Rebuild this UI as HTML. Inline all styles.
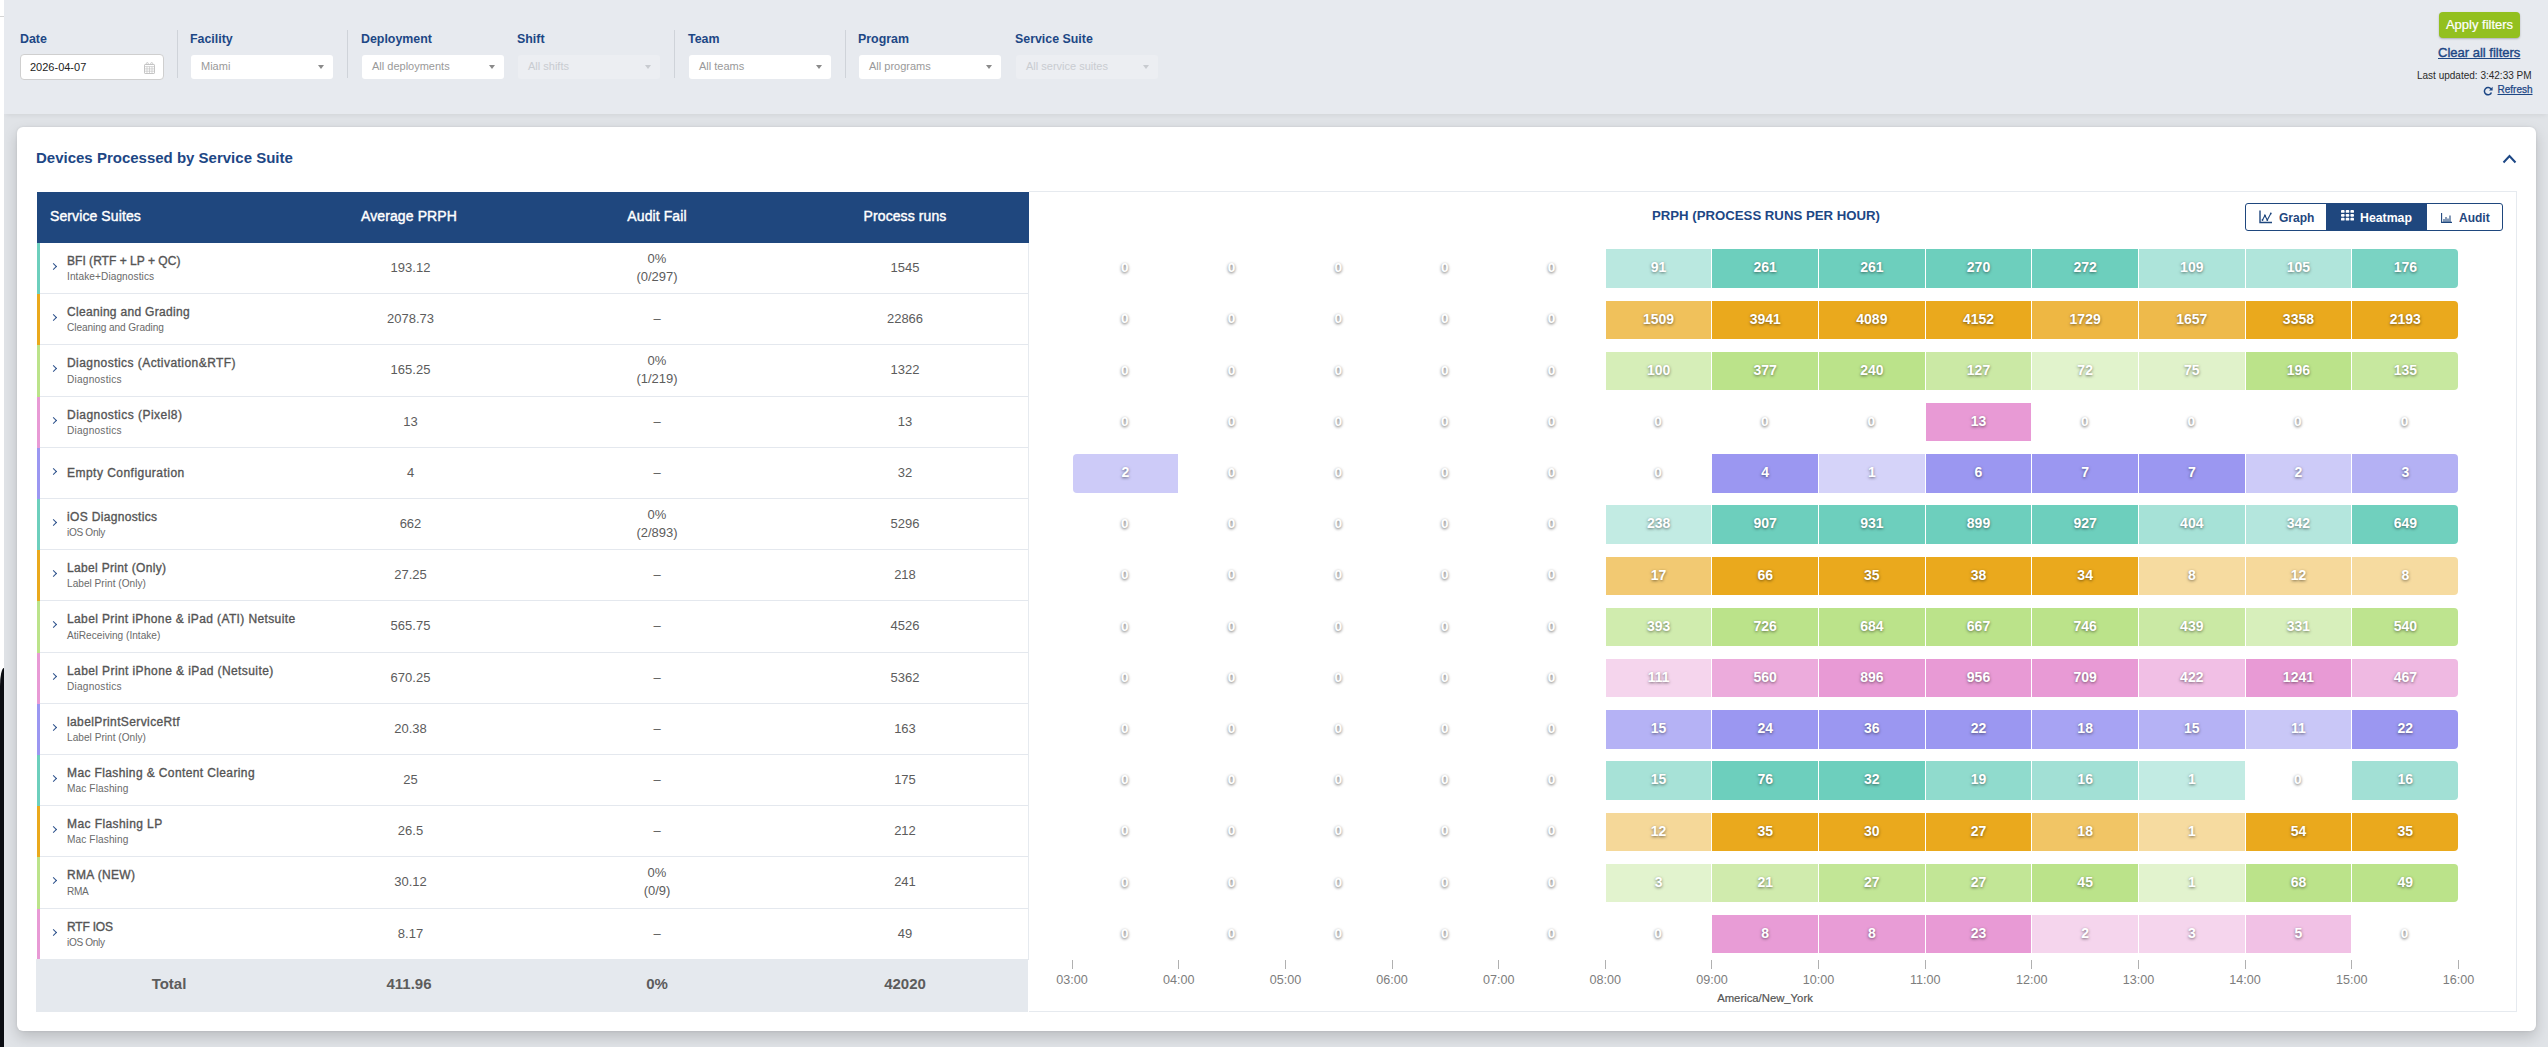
<!DOCTYPE html><html><head><meta charset="utf-8"><style>
*{box-sizing:border-box}
body{margin:0;width:2548px;height:1047px;position:relative;overflow:hidden;background:#e0e3e7;font-family:"Liberation Sans",sans-serif;}
.a{position:absolute;white-space:nowrap}
.lbl{position:absolute;top:31px;font-size:12.4px;font-weight:700;color:#1d4785;line-height:16px}
.inp{position:absolute;top:55px;width:143px;height:24px;background:#fff;border-radius:3px;font-size:11px;color:#999;line-height:22px;padding-left:10px}
.inp.dis{background:#eceef2;color:#c9ccd1}
.caret{position:absolute;right:9px;top:10px;width:0;height:0;border-left:3.5px solid transparent;border-right:3.5px solid transparent;border-top:4px solid #8a8a8a}
.dis .caret{border-top-color:#c8cbd0}
.vdiv{position:absolute;top:30px;width:1px;height:48px;background:#cfd3d9}
.hd{position:absolute;top:191px;height:51px;line-height:51px;color:#fff;font-size:14px;font-weight:400;-webkit-text-stroke:0.4px #fff;letter-spacing:0.1px}
.row{position:absolute;left:37px;width:992px;border-bottom:1px solid #e4e8ee;background:#fff}
.bar{position:absolute;left:0;top:0;bottom:-1px;width:3px}
.chev{position:absolute;left:14px;width:5px;height:5px;border-right:1.3px solid #2a4f8a;border-top:1.3px solid #2a4f8a;transform:rotate(45deg)}
.nm{position:absolute;left:30px;font-size:12px;color:#555;font-weight:400;line-height:14px;-webkit-text-stroke:0.35px #555;letter-spacing:0.1px}
.sb{position:absolute;left:30px;font-size:10.1px;color:#6a6a6a;line-height:12px}
.cv{position:absolute;width:248px;text-align:center;font-size:13px;color:#5c5c5c;line-height:18px}
.cell{position:absolute;height:39px;line-height:39px;text-align:center;color:#fff;font-weight:700;font-size:14px;text-shadow:0 1px 3px rgba(0,0,0,.5)}
.z{position:absolute;width:106px;text-align:center;color:#fff;font-weight:700;font-size:13.6px;text-shadow:0 1px 3px rgba(0,0,0,.6);line-height:16px}
.tick{position:absolute;top:960px;width:1px;height:9px;background:#b0b0b0}
.tl{position:absolute;top:973px;width:60px;text-align:center;font-size:12.6px;color:#7d7d7d;line-height:14px}
</style></head><body>

<div class="a" style="left:4px;top:0;width:2544px;height:114px;background:#e7eaef;box-shadow:0 3px 5px -2px rgba(0,0,0,.07)"></div>
<div class="lbl" style="left:20px">Date</div>
<div class="lbl" style="left:190px">Facility</div>
<div class="lbl" style="left:361px">Deployment</div>
<div class="lbl" style="left:517px">Shift</div>
<div class="lbl" style="left:688px">Team</div>
<div class="lbl" style="left:858px">Program</div>
<div class="lbl" style="left:1015px">Service Suite</div>
<div class="vdiv" style="left:177px"></div>
<div class="vdiv" style="left:347px"></div>
<div class="vdiv" style="left:674px"></div>
<div class="vdiv" style="left:845px"></div>
<div class="inp" style="left:20px;top:54.3px;width:143.5px;height:25.5px;border:1px solid #cfcfcf;border-radius:4px;color:#222;padding-left:9px;line-height:24px">2026-04-07<svg style="position:absolute;left:122.6px;top:6.5px" width="11" height="12" viewBox="0 0 11 12"><rect x="0.5" y="2.5" width="10" height="9" rx="0.6" fill="none" stroke="#c4c4c4"/><path d="M0.5 4.6h10M3 4.6v6.9M5.5 4.6v6.9M8 4.6v6.9M0.5 6.9h10M0.5 9.2h10" stroke="#c4c4c4" stroke-width="0.7"/><path d="M2.3 3V1.6a1 1 0 0 1 2 0V3M6.7 3V1.6a1 1 0 0 1 2 0V3" fill="none" stroke="#c4c4c4" stroke-width="0.9"/></svg></div>
<div class="inp" style="left:191px;width:142px">Miami<div class="caret"></div></div>
<div class="inp" style="left:362px;width:142px">All deployments<div class="caret"></div></div>
<div class="inp dis" style="left:518px;width:142px">All shifts<div class="caret"></div></div>
<div class="inp" style="left:689px;width:142px">All teams<div class="caret"></div></div>
<div class="inp" style="left:859px;width:142px">All programs<div class="caret"></div></div>
<div class="inp dis" style="left:1016px;width:142px">All service suites<div class="caret"></div></div>
<div class="a" style="left:2439px;top:12px;width:81px;height:26px;background:#93c01f;border-radius:4px;box-shadow:0 1px 2px rgba(0,0,0,.25);color:#fff;font-size:13px;line-height:26px;text-align:center;-webkit-text-stroke:0.2px #fff">Apply filters</div>
<div class="a" style="left:2438px;top:45.5px;font-size:13px;font-weight:400;color:#1d4785;text-decoration:underline;line-height:14px;-webkit-text-stroke:0.4px #1d4785">Clear all filters</div>
<div class="a" style="left:2417px;top:70px;font-size:10px;color:#2a2a2a;line-height:12px">Last updated: 3:42:33 PM</div>
<svg class="a" style="left:2483px;top:86px" width="10" height="10" viewBox="0 0 10 10"><path d="M8 3.2A3.6 3.6 0 1 0 8.4 6.4" fill="none" stroke="#1d4785" stroke-width="1.5"/><path d="M9.6 0.8v3.6H6z" fill="#1d4785"/></svg>
<div class="a" style="left:2497.5px;top:83.9px;font-size:10px;color:#1d4785;text-decoration:underline;line-height:12px;-webkit-text-stroke:0.25px #1d4785">Refresh</div>
<div class="a" style="left:17px;top:127px;width:2519px;height:904px;background:#fff;border-radius:6px;box-shadow:0 0 3px rgba(0,0,0,.08),0 6px 14px rgba(0,0,0,.17)"></div>
<div class="a" style="left:36px;top:149px;font-size:15px;font-weight:700;color:#1d4785;line-height:18px">Devices Processed by Service Suite</div>
<svg class="a" style="left:2502px;top:153px" width="15" height="11" viewBox="0 0 15 11"><path d="M1.5 9.5L7.5 3l6 6.5" fill="none" stroke="#1d4785" stroke-width="2"/></svg>
<div class="a" style="left:37px;top:192px;width:992px;height:51px;background:#1f477e"></div>
<div class="hd" style="left:50px">Service Suites</div>
<div class="hd" style="left:285px;width:248px;text-align:center">Average PRPH</div>
<div class="hd" style="left:533px;width:248px;text-align:center">Audit Fail</div>
<div class="hd" style="left:781px;width:248px;text-align:center">Process runs</div>
<div class="a" style="left:1029px;top:191px;width:1488px;height:821px;border:1px solid #e6eaef;border-left:none"></div>
<div class="a" style="left:1652px;top:208px;font-size:13.2px;font-weight:700;color:#1d4785;line-height:16px">PRPH (PROCESS RUNS PER HOUR)</div>
<div class="a" style="left:2245px;top:203px;width:258px;height:28px;border:1px solid #1f477e;border-radius:3px;overflow:hidden"><div class="a" style="left:80px;top:0;width:101px;height:26px;background:#1f477e"></div><svg class="a" style="left:13px;top:5.5px" width="14" height="14" viewBox="0 0 14 14"><path d="M1 0.5v12h12" fill="none" stroke="#1f477e" stroke-width="1.4"/><path d="M3.5 10l2.4-4.5 2.4 4.6 3.5-6.6" fill="none" stroke="#1f477e" stroke-width="1.1"/><g fill="#1f477e"><circle cx="3.5" cy="10" r="0.9"/><circle cx="5.9" cy="5.5" r="0.9"/><circle cx="8.3" cy="10.1" r="0.9"/><circle cx="11.8" cy="3.5" r="0.9"/></g></svg><div class="a" style="left:33px;top:6px;font-size:12px;font-weight:700;color:#1f477e;line-height:16px">Graph</div><svg class="a" style="left:94.5px;top:6.2px" width="13" height="11" viewBox="0 0 13 11"><g fill="#fff"><rect x="0" y="0" width="3.6" height="2.8" rx=".9"/><rect x="4.7" y="0" width="3.6" height="2.8" rx=".9"/><rect x="9.4" y="0" width="3.6" height="2.8" rx=".9"/><rect x="0" y="3.9" width="3.6" height="2.8" rx=".9"/><rect x="4.7" y="3.9" width="3.6" height="2.8" rx=".9"/><rect x="9.4" y="3.9" width="3.6" height="2.8" rx=".9"/><rect x="0" y="7.8" width="3.6" height="2.8" rx=".9"/><rect x="4.7" y="7.8" width="3.6" height="2.8" rx=".9"/><rect x="9.4" y="7.8" width="3.6" height="2.8" rx=".9"/></g></svg><div class="a" style="left:114px;top:6px;font-size:12.3px;font-weight:700;color:#fff;line-height:16px">Heatmap</div><svg class="a" style="left:195px;top:9px" width="11" height="10" viewBox="0 0 11 10"><path d="M0.6 0v9.4H11" fill="none" stroke="#1f477e" stroke-width="1.1"/><path d="M3 9V6M5 9V4M7 9V5.5M9 9V2.5" stroke="#1f477e" stroke-width="1.1"/></svg><div class="a" style="left:213px;top:6px;font-size:12px;font-weight:700;color:#1f477e;line-height:16px">Audit</div></div>
<div class="row" style="top:243.00px;height:51.20px">
<div class="bar" style="background:rgb(109,207,189)"></div>
<div class="chev" style="top:21px"></div>
<div class="nm" style="top:11px;letter-spacing:0.028px">BFI (RTF + LP + QC)</div><div class="sb" style="top:28.2px;letter-spacing:0.088px">Intake+Diagnostics</div>
<div class="cv" style="left:249.5px;top:16px">193.12</div>
<div class="cv" style="left:496px;top:7px">0%<br>(0/297)</div>
<div class="cv" style="left:744px;top:16px">1545</div>
</div>
<div class="z" style="left:1071.9px;top:260.2px">0</div>
<div class="z" style="left:1178.6px;top:260.2px">0</div>
<div class="z" style="left:1285.2px;top:260.2px">0</div>
<div class="z" style="left:1391.8px;top:260.2px">0</div>
<div class="z" style="left:1498.5px;top:260.2px">0</div>
<div class="cell" style="left:1605.79px;top:249.40px;height:38.4px;line-height:37.4px;width:105.64px;background:rgb(186,232,224);">91</div>
<div class="cell" style="left:1712.43px;top:249.40px;height:38.4px;line-height:37.4px;width:105.64px;background:rgb(109,207,189);">261</div>
<div class="cell" style="left:1819.07px;top:249.40px;height:38.4px;line-height:37.4px;width:105.64px;background:rgb(109,207,189);">261</div>
<div class="cell" style="left:1925.71px;top:249.40px;height:38.4px;line-height:37.4px;width:105.64px;background:rgb(109,207,189);">270</div>
<div class="cell" style="left:2032.35px;top:249.40px;height:38.4px;line-height:37.4px;width:105.64px;background:rgb(109,207,189);">272</div>
<div class="cell" style="left:2138.98px;top:249.40px;height:38.4px;line-height:37.4px;width:105.64px;background:rgb(173,228,218);">109</div>
<div class="cell" style="left:2245.62px;top:249.40px;height:38.4px;line-height:37.4px;width:105.64px;background:rgb(176,229,219);">105</div>
<div class="cell" style="left:2352.26px;top:249.40px;height:38.4px;line-height:37.4px;width:106.14px;background:rgb(122,211,195);border-radius:0 4px 4px 0;">176</div>
<div class="row" style="top:294.20px;height:51.20px">
<div class="bar" style="background:rgb(234,169,29)"></div>
<div class="chev" style="top:21px"></div>
<div class="nm" style="top:11px;letter-spacing:0.311px">Cleaning and Grading</div><div class="sb" style="top:28.2px;letter-spacing:-0.074px">Cleaning and Grading</div>
<div class="cv" style="left:249.5px;top:16px">2078.73</div>
<div class="cv" style="left:496px;top:16px">&ndash;</div>
<div class="cv" style="left:744px;top:16px">22866</div>
</div>
<div class="z" style="left:1071.9px;top:311.4px">0</div>
<div class="z" style="left:1178.6px;top:311.4px">0</div>
<div class="z" style="left:1285.2px;top:311.4px">0</div>
<div class="z" style="left:1391.8px;top:311.4px">0</div>
<div class="z" style="left:1498.5px;top:311.4px">0</div>
<div class="cell" style="left:1605.79px;top:300.60px;height:38.4px;line-height:37.4px;width:105.64px;background:rgb(240,193,91);">1509</div>
<div class="cell" style="left:1712.43px;top:300.60px;height:38.4px;line-height:37.4px;width:105.64px;background:rgb(234,169,29);">3941</div>
<div class="cell" style="left:1819.07px;top:300.60px;height:38.4px;line-height:37.4px;width:105.64px;background:rgb(234,169,29);">4089</div>
<div class="cell" style="left:1925.71px;top:300.60px;height:38.4px;line-height:37.4px;width:105.64px;background:rgb(234,169,29);">4152</div>
<div class="cell" style="left:2032.35px;top:300.60px;height:38.4px;line-height:37.4px;width:105.64px;background:rgb(238,183,67);">1729</div>
<div class="cell" style="left:2138.98px;top:300.60px;height:38.4px;line-height:37.4px;width:105.64px;background:rgb(238,186,75);">1657</div>
<div class="cell" style="left:2245.62px;top:300.60px;height:38.4px;line-height:37.4px;width:105.64px;background:rgb(234,169,29);">3358</div>
<div class="cell" style="left:2352.26px;top:300.60px;height:38.4px;line-height:37.4px;width:106.14px;background:rgb(234,169,29);border-radius:0 4px 4px 0;">2193</div>
<div class="row" style="top:345.40px;height:51.20px">
<div class="bar" style="background:rgb(187,227,138)"></div>
<div class="chev" style="top:21px"></div>
<div class="nm" style="top:11px;letter-spacing:0.448px">Diagnostics (Activation&amp;RTF)</div><div class="sb" style="top:28.2px;letter-spacing:0.230px">Diagnostics</div>
<div class="cv" style="left:249.5px;top:16px">165.25</div>
<div class="cv" style="left:496px;top:7px">0%<br>(1/219)</div>
<div class="cv" style="left:744px;top:16px">1322</div>
</div>
<div class="z" style="left:1071.9px;top:362.6px">0</div>
<div class="z" style="left:1178.6px;top:362.6px">0</div>
<div class="z" style="left:1285.2px;top:362.6px">0</div>
<div class="z" style="left:1391.8px;top:362.6px">0</div>
<div class="z" style="left:1498.5px;top:362.6px">0</div>
<div class="cell" style="left:1605.79px;top:351.80px;height:38.4px;line-height:37.4px;width:105.64px;background:rgb(214,238,184);">100</div>
<div class="cell" style="left:1712.43px;top:351.80px;height:38.4px;line-height:37.4px;width:105.64px;background:rgb(187,227,138);">377</div>
<div class="cell" style="left:1819.07px;top:351.80px;height:38.4px;line-height:37.4px;width:105.64px;background:rgb(187,227,138);">240</div>
<div class="cell" style="left:1925.71px;top:351.80px;height:38.4px;line-height:37.4px;width:105.64px;background:rgb(203,233,165);">127</div>
<div class="cell" style="left:2032.35px;top:351.80px;height:38.4px;line-height:37.4px;width:105.64px;background:rgb(225,243,204);">72</div>
<div class="cell" style="left:2138.98px;top:351.80px;height:38.4px;line-height:37.4px;width:105.64px;background:rgb(224,242,202);">75</div>
<div class="cell" style="left:2245.62px;top:351.80px;height:38.4px;line-height:37.4px;width:105.64px;background:rgb(187,227,138);">196</div>
<div class="cell" style="left:2352.26px;top:351.80px;height:38.4px;line-height:37.4px;width:106.14px;background:rgb(199,232,159);border-radius:0 4px 4px 0;">135</div>
<div class="row" style="top:396.60px;height:51.20px">
<div class="bar" style="background:rgb(232,154,213)"></div>
<div class="chev" style="top:21px"></div>
<div class="nm" style="top:11px;letter-spacing:0.468px">Diagnostics (Pixel8)</div><div class="sb" style="top:28.2px;letter-spacing:0.230px">Diagnostics</div>
<div class="cv" style="left:249.5px;top:16px">13</div>
<div class="cv" style="left:496px;top:16px">&ndash;</div>
<div class="cv" style="left:744px;top:16px">13</div>
</div>
<div class="z" style="left:1071.9px;top:413.8px">0</div>
<div class="z" style="left:1178.6px;top:413.8px">0</div>
<div class="z" style="left:1285.2px;top:413.8px">0</div>
<div class="z" style="left:1391.8px;top:413.8px">0</div>
<div class="z" style="left:1498.5px;top:413.8px">0</div>
<div class="z" style="left:1605.1px;top:413.8px">0</div>
<div class="z" style="left:1711.8px;top:413.8px">0</div>
<div class="z" style="left:1818.4px;top:413.8px">0</div>
<div class="cell" style="left:1925.71px;top:403.00px;height:38.4px;line-height:37.4px;width:105.64px;background:rgb(232,154,213);">13</div>
<div class="z" style="left:2031.7px;top:413.8px">0</div>
<div class="z" style="left:2138.3px;top:413.8px">0</div>
<div class="z" style="left:2244.9px;top:413.8px">0</div>
<div class="z" style="left:2351.6px;top:413.8px">0</div>
<div class="row" style="top:447.80px;height:51.20px">
<div class="bar" style="background:rgb(155,151,241)"></div>
<div class="chev" style="top:21px"></div>
<div class="nm" style="top:18px;letter-spacing:0.472px">Empty Configuration</div>
<div class="cv" style="left:249.5px;top:16px">4</div>
<div class="cv" style="left:496px;top:16px">&ndash;</div>
<div class="cv" style="left:744px;top:16px">32</div>
</div>
<div class="cell" style="left:1072.60px;top:454.20px;height:38.4px;line-height:37.4px;width:105.64px;background:rgb(205,203,248);border-radius:4px 0 0 4px;">2</div>
<div class="z" style="left:1178.6px;top:465.0px">0</div>
<div class="z" style="left:1285.2px;top:465.0px">0</div>
<div class="z" style="left:1391.8px;top:465.0px">0</div>
<div class="z" style="left:1498.5px;top:465.0px">0</div>
<div class="z" style="left:1605.1px;top:465.0px">0</div>
<div class="cell" style="left:1712.43px;top:454.20px;height:38.4px;line-height:37.4px;width:105.64px;background:rgb(155,151,241);">4</div>
<div class="cell" style="left:1819.07px;top:454.20px;height:38.4px;line-height:37.4px;width:105.64px;background:rgb(213,211,249);">1</div>
<div class="cell" style="left:1925.71px;top:454.20px;height:38.4px;line-height:37.4px;width:105.64px;background:rgb(155,151,241);">6</div>
<div class="cell" style="left:2032.35px;top:454.20px;height:38.4px;line-height:37.4px;width:105.64px;background:rgb(155,151,241);">7</div>
<div class="cell" style="left:2138.98px;top:454.20px;height:38.4px;line-height:37.4px;width:105.64px;background:rgb(155,151,241);">7</div>
<div class="cell" style="left:2245.62px;top:454.20px;height:38.4px;line-height:37.4px;width:105.64px;background:rgb(205,203,248);">2</div>
<div class="cell" style="left:2352.26px;top:454.20px;height:38.4px;line-height:37.4px;width:106.14px;background:rgb(180,177,244);border-radius:0 4px 4px 0;">3</div>
<div class="row" style="top:499.00px;height:51.20px">
<div class="bar" style="background:rgb(109,207,189)"></div>
<div class="chev" style="top:21px"></div>
<div class="nm" style="top:11px;letter-spacing:0.329px">iOS Diagnostics</div><div class="sb" style="top:28.2px;letter-spacing:-0.314px">iOS Only</div>
<div class="cv" style="left:249.5px;top:16px">662</div>
<div class="cv" style="left:496px;top:7px">0%<br>(2/893)</div>
<div class="cv" style="left:744px;top:16px">5296</div>
</div>
<div class="z" style="left:1071.9px;top:516.2px">0</div>
<div class="z" style="left:1178.6px;top:516.2px">0</div>
<div class="z" style="left:1285.2px;top:516.2px">0</div>
<div class="z" style="left:1391.8px;top:516.2px">0</div>
<div class="z" style="left:1498.5px;top:516.2px">0</div>
<div class="cell" style="left:1605.79px;top:505.40px;height:38.4px;line-height:37.4px;width:105.64px;background:rgb(194,235,227);">238</div>
<div class="cell" style="left:1712.43px;top:505.40px;height:38.4px;line-height:37.4px;width:105.64px;background:rgb(109,207,189);">907</div>
<div class="cell" style="left:1819.07px;top:505.40px;height:38.4px;line-height:37.4px;width:105.64px;background:rgb(109,207,189);">931</div>
<div class="cell" style="left:1925.71px;top:505.40px;height:38.4px;line-height:37.4px;width:105.64px;background:rgb(109,207,189);">899</div>
<div class="cell" style="left:2032.35px;top:505.40px;height:38.4px;line-height:37.4px;width:105.64px;background:rgb(109,207,189);">927</div>
<div class="cell" style="left:2138.98px;top:505.40px;height:38.4px;line-height:37.4px;width:105.64px;background:rgb(166,226,215);">404</div>
<div class="cell" style="left:2245.62px;top:505.40px;height:38.4px;line-height:37.4px;width:105.64px;background:rgb(180,230,221);">342</div>
<div class="cell" style="left:2352.26px;top:505.40px;height:38.4px;line-height:37.4px;width:106.14px;background:rgb(112,208,190);border-radius:0 4px 4px 0;">649</div>
<div class="row" style="top:550.20px;height:51.20px">
<div class="bar" style="background:rgb(234,169,29)"></div>
<div class="chev" style="top:21px"></div>
<div class="nm" style="top:11px;letter-spacing:0.329px">Label Print (Only)</div><div class="sb" style="top:28.2px;letter-spacing:0.018px">Label Print (Only)</div>
<div class="cv" style="left:249.5px;top:16px">27.25</div>
<div class="cv" style="left:496px;top:16px">&ndash;</div>
<div class="cv" style="left:744px;top:16px">218</div>
</div>
<div class="z" style="left:1071.9px;top:567.4px">0</div>
<div class="z" style="left:1178.6px;top:567.4px">0</div>
<div class="z" style="left:1285.2px;top:567.4px">0</div>
<div class="z" style="left:1391.8px;top:567.4px">0</div>
<div class="z" style="left:1498.5px;top:567.4px">0</div>
<div class="cell" style="left:1605.79px;top:556.60px;height:38.4px;line-height:37.4px;width:105.64px;background:rgb(242,201,114);">17</div>
<div class="cell" style="left:1712.43px;top:556.60px;height:38.4px;line-height:37.4px;width:105.64px;background:rgb(234,169,29);">66</div>
<div class="cell" style="left:1819.07px;top:556.60px;height:38.4px;line-height:37.4px;width:105.64px;background:rgb(234,169,29);">35</div>
<div class="cell" style="left:1925.71px;top:556.60px;height:38.4px;line-height:37.4px;width:105.64px;background:rgb(234,169,29);">38</div>
<div class="cell" style="left:2032.35px;top:556.60px;height:38.4px;line-height:37.4px;width:105.64px;background:rgb(234,169,29);">34</div>
<div class="cell" style="left:2138.98px;top:556.60px;height:38.4px;line-height:37.4px;width:105.64px;background:rgb(246,219,160);">8</div>
<div class="cell" style="left:2245.62px;top:556.60px;height:38.4px;line-height:37.4px;width:105.64px;background:rgb(246,217,155);">12</div>
<div class="cell" style="left:2352.26px;top:556.60px;height:38.4px;line-height:37.4px;width:106.14px;background:rgb(246,219,160);border-radius:0 4px 4px 0;">8</div>
<div class="row" style="top:601.40px;height:51.20px">
<div class="bar" style="background:rgb(187,227,138)"></div>
<div class="chev" style="top:21px"></div>
<div class="nm" style="top:11px;letter-spacing:0.382px">Label Print iPhone &amp; iPad (ATI) Netsuite</div><div class="sb" style="top:28.2px;letter-spacing:0.010px">AtiReceiving (Intake)</div>
<div class="cv" style="left:249.5px;top:16px">565.75</div>
<div class="cv" style="left:496px;top:16px">&ndash;</div>
<div class="cv" style="left:744px;top:16px">4526</div>
</div>
<div class="z" style="left:1071.9px;top:618.6px">0</div>
<div class="z" style="left:1178.6px;top:618.6px">0</div>
<div class="z" style="left:1285.2px;top:618.6px">0</div>
<div class="z" style="left:1391.8px;top:618.6px">0</div>
<div class="z" style="left:1498.5px;top:618.6px">0</div>
<div class="cell" style="left:1605.79px;top:607.80px;height:38.4px;line-height:37.4px;width:105.64px;background:rgb(208,236,174);">393</div>
<div class="cell" style="left:1712.43px;top:607.80px;height:38.4px;line-height:37.4px;width:105.64px;background:rgb(187,227,138);">726</div>
<div class="cell" style="left:1819.07px;top:607.80px;height:38.4px;line-height:37.4px;width:105.64px;background:rgb(187,227,138);">684</div>
<div class="cell" style="left:1925.71px;top:607.80px;height:38.4px;line-height:37.4px;width:105.64px;background:rgb(187,227,138);">667</div>
<div class="cell" style="left:2032.35px;top:607.80px;height:38.4px;line-height:37.4px;width:105.64px;background:rgb(187,227,138);">746</div>
<div class="cell" style="left:2138.98px;top:607.80px;height:38.4px;line-height:37.4px;width:105.64px;background:rgb(202,233,164);">439</div>
<div class="cell" style="left:2245.62px;top:607.80px;height:38.4px;line-height:37.4px;width:105.64px;background:rgb(215,239,187);">331</div>
<div class="cell" style="left:2352.26px;top:607.80px;height:38.4px;line-height:37.4px;width:106.14px;background:rgb(190,228,143);border-radius:0 4px 4px 0;">540</div>
<div class="row" style="top:652.60px;height:51.20px">
<div class="bar" style="background:rgb(232,154,213)"></div>
<div class="chev" style="top:21px"></div>
<div class="nm" style="top:11px;letter-spacing:0.403px">Label Print iPhone &amp; iPad (Netsuite)</div><div class="sb" style="top:28.2px;letter-spacing:0.230px">Diagnostics</div>
<div class="cv" style="left:249.5px;top:16px">670.25</div>
<div class="cv" style="left:496px;top:16px">&ndash;</div>
<div class="cv" style="left:744px;top:16px">5362</div>
</div>
<div class="z" style="left:1071.9px;top:669.8px">0</div>
<div class="z" style="left:1178.6px;top:669.8px">0</div>
<div class="z" style="left:1285.2px;top:669.8px">0</div>
<div class="z" style="left:1391.8px;top:669.8px">0</div>
<div class="z" style="left:1498.5px;top:669.8px">0</div>
<div class="cell" style="left:1605.79px;top:659.00px;height:38.4px;line-height:37.4px;width:105.64px;background:rgb(245,213,237);">111</div>
<div class="cell" style="left:1712.43px;top:659.00px;height:38.4px;line-height:37.4px;width:105.64px;background:rgb(236,171,220);">560</div>
<div class="cell" style="left:1819.07px;top:659.00px;height:38.4px;line-height:37.4px;width:105.64px;background:rgb(232,154,213);">896</div>
<div class="cell" style="left:1925.71px;top:659.00px;height:38.4px;line-height:37.4px;width:105.64px;background:rgb(232,154,213);">956</div>
<div class="cell" style="left:2032.35px;top:659.00px;height:38.4px;line-height:37.4px;width:105.64px;background:rgb(232,154,213);">709</div>
<div class="cell" style="left:2138.98px;top:659.00px;height:38.4px;line-height:37.4px;width:105.64px;background:rgb(241,191,229);">422</div>
<div class="cell" style="left:2245.62px;top:659.00px;height:38.4px;line-height:37.4px;width:105.64px;background:rgb(232,154,213);">1241</div>
<div class="cell" style="left:2352.26px;top:659.00px;height:38.4px;line-height:37.4px;width:106.14px;background:rgb(239,185,226);border-radius:0 4px 4px 0;">467</div>
<div class="row" style="top:703.80px;height:51.20px">
<div class="bar" style="background:rgb(155,151,241)"></div>
<div class="chev" style="top:21px"></div>
<div class="nm" style="top:11px;letter-spacing:0.384px">labelPrintServiceRtf</div><div class="sb" style="top:28.2px;letter-spacing:0.024px">Label Print (Only)</div>
<div class="cv" style="left:249.5px;top:16px">20.38</div>
<div class="cv" style="left:496px;top:16px">&ndash;</div>
<div class="cv" style="left:744px;top:16px">163</div>
</div>
<div class="z" style="left:1071.9px;top:721.0px">0</div>
<div class="z" style="left:1178.6px;top:721.0px">0</div>
<div class="z" style="left:1285.2px;top:721.0px">0</div>
<div class="z" style="left:1391.8px;top:721.0px">0</div>
<div class="z" style="left:1498.5px;top:721.0px">0</div>
<div class="cell" style="left:1605.79px;top:710.20px;height:38.4px;line-height:37.4px;width:105.64px;background:rgb(181,178,245);">15</div>
<div class="cell" style="left:1712.43px;top:710.20px;height:38.4px;line-height:37.4px;width:105.64px;background:rgb(155,151,241);">24</div>
<div class="cell" style="left:1819.07px;top:710.20px;height:38.4px;line-height:37.4px;width:105.64px;background:rgb(155,151,241);">36</div>
<div class="cell" style="left:1925.71px;top:710.20px;height:38.4px;line-height:37.4px;width:105.64px;background:rgb(155,151,241);">22</div>
<div class="cell" style="left:2032.35px;top:710.20px;height:38.4px;line-height:37.4px;width:105.64px;background:rgb(167,163,243);">18</div>
<div class="cell" style="left:2138.98px;top:710.20px;height:38.4px;line-height:37.4px;width:105.64px;background:rgb(181,178,245);">15</div>
<div class="cell" style="left:2245.62px;top:710.20px;height:38.4px;line-height:37.4px;width:105.64px;background:rgb(201,199,247);">11</div>
<div class="cell" style="left:2352.26px;top:710.20px;height:38.4px;line-height:37.4px;width:106.14px;background:rgb(155,151,241);border-radius:0 4px 4px 0;">22</div>
<div class="row" style="top:755.00px;height:51.20px">
<div class="bar" style="background:rgb(109,207,189)"></div>
<div class="chev" style="top:21px"></div>
<div class="nm" style="top:11px;letter-spacing:0.383px">Mac Flashing &amp; Content Clearing</div><div class="sb" style="top:28.2px;letter-spacing:0.118px">Mac Flashing</div>
<div class="cv" style="left:249.5px;top:16px">25</div>
<div class="cv" style="left:496px;top:16px">&ndash;</div>
<div class="cv" style="left:744px;top:16px">175</div>
</div>
<div class="z" style="left:1071.9px;top:772.2px">0</div>
<div class="z" style="left:1178.6px;top:772.2px">0</div>
<div class="z" style="left:1285.2px;top:772.2px">0</div>
<div class="z" style="left:1391.8px;top:772.2px">0</div>
<div class="z" style="left:1498.5px;top:772.2px">0</div>
<div class="cell" style="left:1605.79px;top:761.40px;height:38.4px;line-height:37.4px;width:105.64px;background:rgb(167,226,215);">15</div>
<div class="cell" style="left:1712.43px;top:761.40px;height:38.4px;line-height:37.4px;width:105.64px;background:rgb(109,207,189);">76</div>
<div class="cell" style="left:1819.07px;top:761.40px;height:38.4px;line-height:37.4px;width:105.64px;background:rgb(109,207,189);">32</div>
<div class="cell" style="left:1925.71px;top:761.40px;height:38.4px;line-height:37.4px;width:105.64px;background:rgb(144,219,205);">19</div>
<div class="cell" style="left:2032.35px;top:761.40px;height:38.4px;line-height:37.4px;width:105.64px;background:rgb(162,224,213);">16</div>
<div class="cell" style="left:2138.98px;top:761.40px;height:38.4px;line-height:37.4px;width:105.64px;background:rgb(194,235,227);">1</div>
<div class="z" style="left:2244.9px;top:772.2px">0</div>
<div class="cell" style="left:2352.26px;top:761.40px;height:38.4px;line-height:37.4px;width:106.14px;background:rgb(162,224,213);border-radius:0 4px 4px 0;">16</div>
<div class="row" style="top:806.20px;height:51.20px">
<div class="bar" style="background:rgb(234,169,29)"></div>
<div class="chev" style="top:21px"></div>
<div class="nm" style="top:11px;letter-spacing:0.414px">Mac Flashing LP</div><div class="sb" style="top:28.2px;letter-spacing:0.118px">Mac Flashing</div>
<div class="cv" style="left:249.5px;top:16px">26.5</div>
<div class="cv" style="left:496px;top:16px">&ndash;</div>
<div class="cv" style="left:744px;top:16px">212</div>
</div>
<div class="z" style="left:1071.9px;top:823.4px">0</div>
<div class="z" style="left:1178.6px;top:823.4px">0</div>
<div class="z" style="left:1285.2px;top:823.4px">0</div>
<div class="z" style="left:1391.8px;top:823.4px">0</div>
<div class="z" style="left:1498.5px;top:823.4px">0</div>
<div class="cell" style="left:1605.79px;top:812.60px;height:38.4px;line-height:37.4px;width:105.64px;background:rgb(245,216,153);">12</div>
<div class="cell" style="left:1712.43px;top:812.60px;height:38.4px;line-height:37.4px;width:105.64px;background:rgb(234,169,29);">35</div>
<div class="cell" style="left:1819.07px;top:812.60px;height:38.4px;line-height:37.4px;width:105.64px;background:rgb(234,169,29);">30</div>
<div class="cell" style="left:1925.71px;top:812.60px;height:38.4px;line-height:37.4px;width:105.64px;background:rgb(234,169,29);">27</div>
<div class="cell" style="left:2032.35px;top:812.60px;height:38.4px;line-height:37.4px;width:105.64px;background:rgb(241,197,101);">18</div>
<div class="cell" style="left:2138.98px;top:812.60px;height:38.4px;line-height:37.4px;width:105.64px;background:rgb(246,219,160);">1</div>
<div class="cell" style="left:2245.62px;top:812.60px;height:38.4px;line-height:37.4px;width:105.64px;background:rgb(234,169,29);">54</div>
<div class="cell" style="left:2352.26px;top:812.60px;height:38.4px;line-height:37.4px;width:106.14px;background:rgb(234,169,29);border-radius:0 4px 4px 0;">35</div>
<div class="row" style="top:857.40px;height:51.20px">
<div class="bar" style="background:rgb(187,227,138)"></div>
<div class="chev" style="top:21px"></div>
<div class="nm" style="top:11px;letter-spacing:0.325px">RMA (NEW)</div><div class="sb" style="top:28.2px;letter-spacing:-0.300px">RMA</div>
<div class="cv" style="left:249.5px;top:16px">30.12</div>
<div class="cv" style="left:496px;top:7px">0%<br>(0/9)</div>
<div class="cv" style="left:744px;top:16px">241</div>
</div>
<div class="z" style="left:1071.9px;top:874.6px">0</div>
<div class="z" style="left:1178.6px;top:874.6px">0</div>
<div class="z" style="left:1285.2px;top:874.6px">0</div>
<div class="z" style="left:1391.8px;top:874.6px">0</div>
<div class="z" style="left:1498.5px;top:874.6px">0</div>
<div class="cell" style="left:1605.79px;top:863.80px;height:38.4px;line-height:37.4px;width:105.64px;background:rgb(226,243,206);">3</div>
<div class="cell" style="left:1712.43px;top:863.80px;height:38.4px;line-height:37.4px;width:105.64px;background:rgb(208,235,173);">21</div>
<div class="cell" style="left:1819.07px;top:863.80px;height:38.4px;line-height:37.4px;width:105.64px;background:rgb(194,230,150);">27</div>
<div class="cell" style="left:1925.71px;top:863.80px;height:38.4px;line-height:37.4px;width:105.64px;background:rgb(194,230,150);">27</div>
<div class="cell" style="left:2032.35px;top:863.80px;height:38.4px;line-height:37.4px;width:105.64px;background:rgb(187,227,138);">45</div>
<div class="cell" style="left:2138.98px;top:863.80px;height:38.4px;line-height:37.4px;width:105.64px;background:rgb(226,243,206);">1</div>
<div class="cell" style="left:2245.62px;top:863.80px;height:38.4px;line-height:37.4px;width:105.64px;background:rgb(187,227,138);">68</div>
<div class="cell" style="left:2352.26px;top:863.80px;height:38.4px;line-height:37.4px;width:106.14px;background:rgb(187,227,138);border-radius:0 4px 4px 0;">49</div>
<div class="row" style="top:908.60px;height:51.20px">
<div class="bar" style="background:rgb(232,154,213)"></div>
<div class="chev" style="top:21px"></div>
<div class="nm" style="top:11px;letter-spacing:-0.200px">RTF IOS</div><div class="sb" style="top:28.2px;letter-spacing:-0.343px">iOS Only</div>
<div class="cv" style="left:249.5px;top:16px">8.17</div>
<div class="cv" style="left:496px;top:16px">&ndash;</div>
<div class="cv" style="left:744px;top:16px">49</div>
</div>
<div class="z" style="left:1071.9px;top:925.8px">0</div>
<div class="z" style="left:1178.6px;top:925.8px">0</div>
<div class="z" style="left:1285.2px;top:925.8px">0</div>
<div class="z" style="left:1391.8px;top:925.8px">0</div>
<div class="z" style="left:1498.5px;top:925.8px">0</div>
<div class="z" style="left:1605.1px;top:925.8px">0</div>
<div class="cell" style="left:1712.43px;top:915.00px;height:38.4px;line-height:37.4px;width:105.64px;background:rgb(232,156,214);">8</div>
<div class="cell" style="left:1819.07px;top:915.00px;height:38.4px;line-height:37.4px;width:105.64px;background:rgb(232,156,214);">8</div>
<div class="cell" style="left:1925.71px;top:915.00px;height:38.4px;line-height:37.4px;width:105.64px;background:rgb(232,154,213);">23</div>
<div class="cell" style="left:2032.35px;top:915.00px;height:38.4px;line-height:37.4px;width:105.64px;background:rgb(245,213,237);">2</div>
<div class="cell" style="left:2138.98px;top:915.00px;height:38.4px;line-height:37.4px;width:105.64px;background:rgb(245,213,237);">3</div>
<div class="cell" style="left:2245.62px;top:915.00px;height:38.4px;line-height:37.4px;width:105.64px;background:rgb(241,193,229);">5</div>
<div class="z" style="left:2351.6px;top:925.8px">0</div>
<div class="a" style="left:1028px;top:243px;width:1px;height:716px;background:#e6eaef"></div>
<div class="a" style="left:36px;top:959px;width:992px;height:53px;background:#e5e9ee"></div>
<div class="a" style="left:45px;top:975px;width:248px;text-align:center;font-size:15px;font-weight:700;color:#5c5c5c;line-height:18px">Total</div>
<div class="a" style="left:285px;top:975px;width:248px;text-align:center;font-size:15px;font-weight:700;color:#5c5c5c;line-height:18px">411.96</div>
<div class="a" style="left:533px;top:975px;width:248px;text-align:center;font-size:15px;font-weight:700;color:#5c5c5c;line-height:18px">0%</div>
<div class="a" style="left:781px;top:975px;width:248px;text-align:center;font-size:15px;font-weight:700;color:#5c5c5c;line-height:18px">42020</div>
<div class="tick" style="left:1071.6px"></div>
<div class="tl" style="left:1042.1px">03:00</div>
<div class="tick" style="left:1178.2px"></div>
<div class="tl" style="left:1148.7px">04:00</div>
<div class="tick" style="left:1284.9px"></div>
<div class="tl" style="left:1255.4px">05:00</div>
<div class="tick" style="left:1391.5px"></div>
<div class="tl" style="left:1362.0px">06:00</div>
<div class="tick" style="left:1498.2px"></div>
<div class="tl" style="left:1468.7px">07:00</div>
<div class="tick" style="left:1604.8px"></div>
<div class="tl" style="left:1575.3px">08:00</div>
<div class="tick" style="left:1711.4px"></div>
<div class="tl" style="left:1681.9px">09:00</div>
<div class="tick" style="left:1818.1px"></div>
<div class="tl" style="left:1788.6px">10:00</div>
<div class="tick" style="left:1924.7px"></div>
<div class="tl" style="left:1895.2px">11:00</div>
<div class="tick" style="left:2031.3px"></div>
<div class="tl" style="left:2001.8px">12:00</div>
<div class="tick" style="left:2138.0px"></div>
<div class="tl" style="left:2108.5px">13:00</div>
<div class="tick" style="left:2244.6px"></div>
<div class="tl" style="left:2215.1px">14:00</div>
<div class="tick" style="left:2351.3px"></div>
<div class="tl" style="left:2321.8px">15:00</div>
<div class="tick" style="left:2457.9px"></div>
<div class="tl" style="left:2428.4px">16:00</div>
<div class="a" style="left:1665px;top:992px;width:200px;text-align:center;font-size:11.3px;color:#555;line-height:13px;-webkit-text-stroke:0.2px #555">America/New_York</div>
<div class="a" style="left:0;top:0;width:4px;height:1047px;background:#fff"></div>
<div class="a" style="left:0;top:16px;width:4px;height:1px;background:#d5d5d5"></div>
<div class="a" style="left:0;top:668px;width:4px;height:379px;background:#0b0d12;border-top-left-radius:4px 18px"></div>
</body></html>
